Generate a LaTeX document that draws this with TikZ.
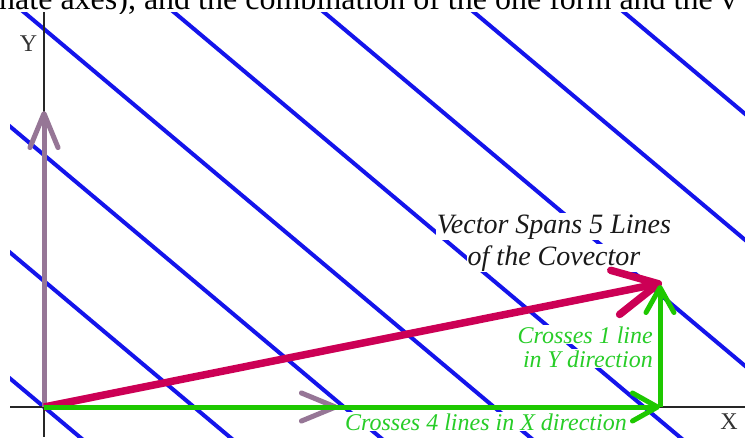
\documentclass[tikz,border=0pt]{standalone}
\usepackage{fontspec}
\setmainfont{Liberation Serif}
\usetikzlibrary{arrows.meta}
\definecolor{covblue}{RGB}{20,20,235}
\definecolor{vecmag}{RGB}{204,0,85}
\definecolor{basepurp}{RGB}{150,118,150}
\definecolor{compgreen}{RGB}{30,200,0}
\definecolor{txtgreen}{RGB}{40,205,40}
\begin{document}
\begin{tikzpicture}[x=1pt,y=-1pt,
  covline/.style={covblue,line width=4pt},
  axisline/.style={black!85,line width=1.5pt},
  basisvec/.style={basepurp,line width=5pt,-{Straight Barb[length=34pt,width=28pt,round]}},
  compvec/.style={compgreen,line width=5pt,-{Straight Barb[length=25pt,width=28pt,round]}},
  mainvec/.style={vecmag,line width=7.5pt,-{Straight Barb[length=44pt,width=45pt,round]}},
  blacklabel/.style={font=\fontsize{28}{32}\selectfont\itshape,text=black!90,fill=white,inner sep=1pt},
  greenlabel/.style={font=\fontsize{24}{24}\selectfont\itshape,text=txtgreen,fill=white,inner sep=1pt},
  axislabel/.style={font=\fontsize{24}{24}\selectfont,text=black!80,inner sep=0pt},
  pagetext/.style={font=\fontsize{32}{32}\selectfont,text=black,inner sep=0pt}
]
\fill[white] (0,0) rectangle (745,437);
\useasboundingbox (0,0) rectangle (745,437);

% cropped running text at the top
\begin{scope}
  \clip (0,0) rectangle (745,13);
  \node[pagetext,anchor=base west] (toptext) at (-1,9.5) {nate axes), and the combination of the one form and the v};
\end{scope}

% covector lines
\begin{scope}
  \clip (10,12) rectangle (745,437);
  \foreach \k in {0,...,7}{
    \draw[covline] ({44+150*\k-600},{407-0.84*600}) -- ({44+150*\k+120},{407+0.84*120});
  }
\end{scope}

% labels with white backgrounds
\node[blacklabel,anchor=base] (vs1) at (554,233) {Vector Spans 5 Lines};
\node[blacklabel,anchor=base] (vs2) at (554,265) {of the Covector};
\node[greenlabel,anchor=base east] (cy1) at (654,343) {Crosses 1 line};
\node[greenlabel,anchor=base east] (cy2) at (654,367) {in Y direction};
\node[greenlabel,anchor=base west] (cx) at (344,430) {Crosses 4 lines in X direction};

% axes
\coordinate (Xl) at (10,407);
\coordinate (Xr) at (745,407);
\coordinate (Yt) at (44,12);
\coordinate (Yb) at (44,437);
\draw[axisline] (Xl) -- (Xr);
\draw[axisline] (Yt) -- (Yb);
\node[axislabel] (ylab) at (28.5,44) {Y};
\node[axislabel] (xlab) at (729,421.5) {X};

% vectors
\coordinate (O) at (44,407);
\coordinate (Ey) at (44,111);
\coordinate (Ex) at (338,407);
\coordinate (V) at (662,283);
\coordinate (Gc) at (660,407);
\coordinate (Gt) at (660,285);
\draw[basisvec] (O) -- (Ey);
\draw[basisvec] (O) -- (Ex);
\draw[mainvec] (O) -- (V);
\draw[compvec] (O) -- (Gc);
\draw[compvec] (Gc) -- (Gt);
\end{tikzpicture}
\end{document}
